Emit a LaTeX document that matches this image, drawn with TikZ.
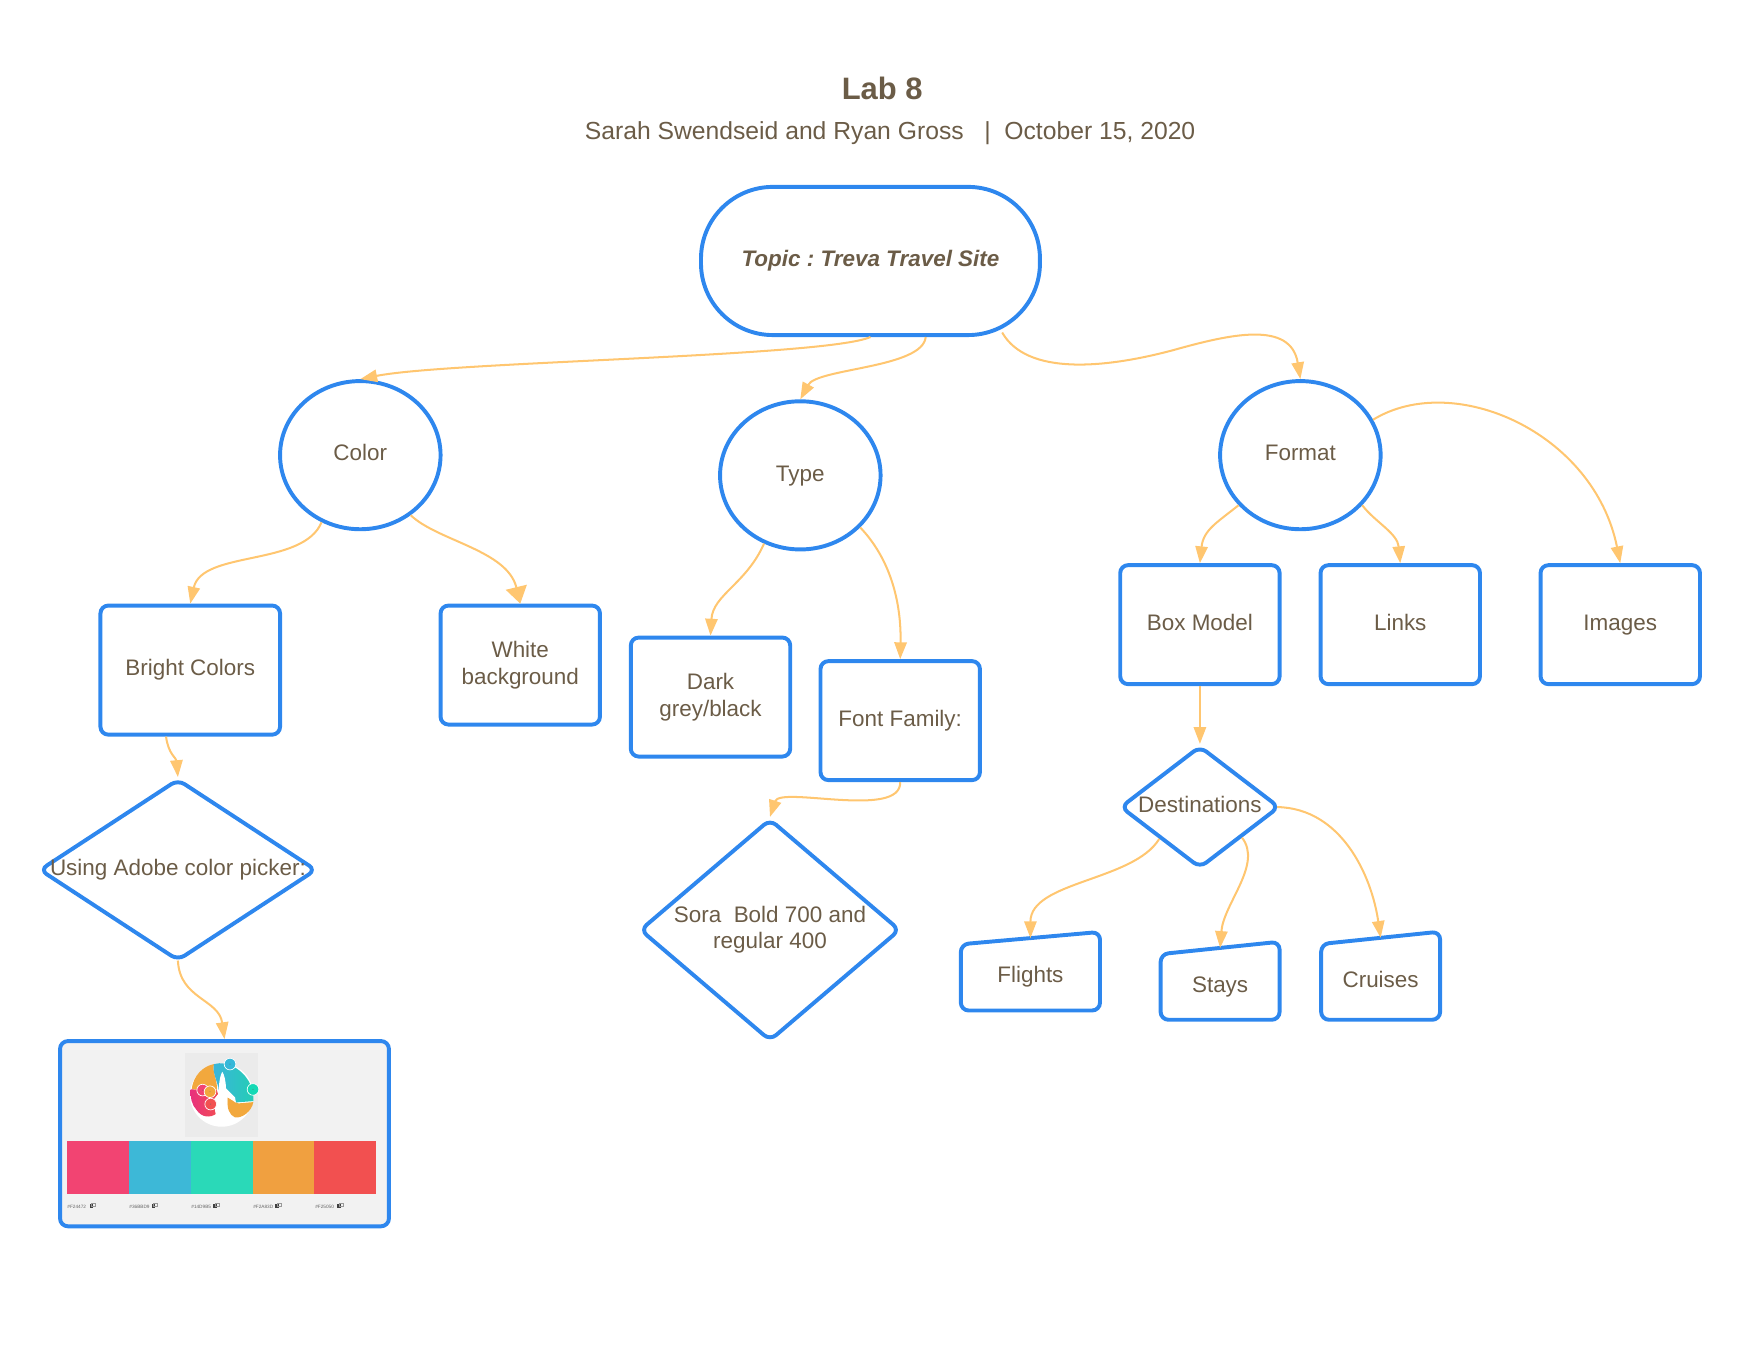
\documentclass[tikz,border=0pt]{standalone}
\usepackage{fontspec}
\setmainfont{Liberation Sans}
\usetikzlibrary{arrows.meta,shapes.geometric}

\definecolor{labBlue}{HTML}{2E87EE}
\definecolor{labEdge}{HTML}{FFC670}
\definecolor{labText}{HTML}{6B5C47}
\definecolor{logoOrange}{HTML}{F2A83D}
\definecolor{logoPink}{HTML}{E8307E}
\definecolor{logoRed}{HTML}{F25050}
\definecolor{logoBlue}{HTML}{3BB4DC}
\definecolor{logoTeal}{HTML}{25CDB5}

\tikzset{
    CustomText/.style={text=labText, align=center,
        font=\fontsize{10}{12}\selectfont,
        execute at begin node={\rule[-2.3pt]{0pt}{9.7pt}},
        execute at end node={\rule[-2.3pt]{0pt}{9.7pt}}},
    CustomLine/.style={draw=labBlue, line width=1.75pt},
    CustomBox/.style={CustomText, CustomLine, shape=rectangle, rounded corners=3.5pt,
        inner sep=0pt, minimum width=71pt, minimum height=53pt},
    CustomCircle/.style={CustomText, CustomLine, shape=ellipse, inner sep=0pt,
        minimum width=71.5pt, minimum height=66pt},
    CustomDiamond/.style={CustomLine, shape=diamond, inner sep=0pt, rounded corners=3.5pt},
    CustomInput/.style={text=labText, font=\fontsize{10}{12}\selectfont, shape=rectangle,
        inner sep=0pt, outer sep=0pt, text height=7.2pt, text depth=0pt},
    CustomEdge/.style={draw=labEdge, line width=0.9pt, ->},
    >={Triangle[length=7.5pt,width=5.5pt,labEdge]},
}

\begin{document}
\frenchspacing
\begin{tikzpicture}[x=0.5pt,y=-0.5pt]

\useasboundingbox (0,0) rectangle (1568,1211.6);

% Heading
\node (title) at (786,79) [text=labText, font=\fontsize{13.8}{16}\selectfont\bfseries] {Lab 8};
\node (subtitle) at (793,118.5) [text=labText, font=\fontsize{11}{14}\selectfont]
    {Sarah Swendseid and Ryan Gross~~~|~~October 15, 2020};

% Top of the tree
\node (topic) at (775.5,232.5) [CustomBox, rounded corners=32pt, minimum width=151pt, minimum height=66pt,
    font=\fontsize{10}{12}\selectfont\bfseries\itshape] {Topic : Treva Travel Site};

\node (color) at (321,405.5) [CustomCircle] {Color};
\node (type) at (713,423.5) [CustomCircle] {Type};
\node (format) at (1158.5,405.5) [CustomCircle] {Format};

% Color branch
\node (bright) at (169.5,597) [CustomBox, minimum width=80pt, minimum height=57.5pt] {Bright Colors};
\node (white) at (463.5,592.5) [CustomBox] {White\\background};
\node (adobe) at (158.5,775) [CustomDiamond, minimum width=123.5pt, minimum height=81pt,
    label={[CustomText]center:{Using Adobe color picker:}}] {};
\node (palette) at (200,1010) [CustomLine, shape=rectangle, fill=black!5, rounded corners=3.5pt,
    inner sep=0pt, minimum width=146.5pt, minimum height=82.5pt] {};

% Type branch
\node (dark) at (633,621) [CustomBox] {Dark\\grey/black};
\node (font) at (802,642) [CustomBox] {Font Family:};
\node (sora) at (686,828.5) [CustomDiamond, minimum width=116pt, minimum height=99pt,
    label={[CustomText]center:{Sora~ Bold 700 and\\regular 400}}] {};

% Format branch
\node (boxmodel) at (1069,556.5) [CustomBox] {Box Model};
\node (links) at (1247.5,556.5) [CustomBox] {Links};
\node (images) at (1443.5,556.5) [CustomBox] {Images};
\node (dest) at (1069,719) [CustomDiamond, minimum width=71pt, minimum height=54.5pt,
    label={[CustomText]center:{Destinations}}] {};

\node (flights) at (918,868) [CustomInput, minimum width=62pt, minimum height=32.25pt] {Flights};
\node (stays) at (1087,876.5) [CustomInput, text height=8pt, minimum width=53pt, minimum height=32pt] {Stays};
\node (cruises) at (1230,872) [CustomInput, text height=8.2pt, minimum width=53pt, minimum height=36.5pt] {Cruises};

\foreach \n in {flights,stays,cruises}
    \draw [CustomLine, rounded corners=3.5pt] (\n.south west) -- ([yshift=-2.75pt]\n.north west)
        -- ([yshift=2.75pt]\n.north east) -- (\n.south east) -- cycle;

% Palette screenshot
\foreach \col/\hex [count=\i from 0] in {F24472/F24472,3DB8D7/36BBD9,2AD9B8/14D9B5,F0A040/F2A83D,F25050/F25050} {
    \definecolor{swatch}{HTML}{\col}
    \fill [swatch] (59.7+55.1*\i,1016.2) rectangle ++(55.1,47.6);
    \node [anchor=west, inner sep=0pt, text=black!60, font=\fontsize{2.1}{3}\selectfont] at (59.7+55.2*\i,1075) {\#\hex};
    \fill [black!75] (79.8+55.2*\i,1072.8) rectangle ++(3.2,3.8);
    \draw [black!40, line width=0.1pt] (81.5+55.2*\i,1071.5) rectangle ++(3.2,3);
}

% Logo over the palette, units of a 3x crop
\begin{scope}[shift={(151.46,926.6)}, x=0.1485pt, y=-0.1485pt]
    \fill [black!8] (45,40) rectangle (265,290);
    \fill [white] (155,165) circle [radius=14.1pt];
    \fill [logoOrange] (65,148) .. controls (70,105) and (100,78) .. (132,72)
        .. controls (125,95) and (145,125) .. (140,150) -- cycle;
    \shade [left color=logoPink, right color=logoRed] (62,148) -- (140,150) .. controls (150,175) and (150,200) .. (140,220)
        .. controls (120,235) and (95,232) .. (80,210) .. controls (65,195) and (60,170) .. (62,148) -- cycle;
    \fill [logoOrange] (172,172) -- (205,190) -- (250,186) .. controls (245,215) and (215,235) .. (195,232)
        .. controls (178,225) and (170,205) .. (172,172) -- cycle;
    \shade [left color=logoBlue, right color=logoTeal] (132,72) .. controls (170,60) and (235,90) .. (250,160) -- (250,183)
        -- (198,187) -- (168,150) -- (146,150) .. controls (145,130) and (125,95) .. (132,72) -- cycle;
    \fill [white] (157,95) .. controls (148,110) and (146,140) .. (146,160) -- (130,180) -- (140,240) -- (172,240)
        -- (172,170) -- (198,188) -- (195,172) -- (168,145) .. controls (167,120) and (163,105) .. (157,95) -- cycle;
    \foreach \hx/\hy/\col in {180/72/36B8D9, 249/148/14D9B5, 98/150/F24472, 120/155/F2A83D, 122/192/F25050} {
        \definecolor{handle}{HTML}{\col}
        \draw [white, fill=handle, line width=0.3pt] (\hx,\hy) circle [radius=2.6pt];
        \fill [black!60] (\hx,\hy) circle [radius=0.2pt];
    }
\end{scope}

% Connectors
\begin{scope}
    \draw [CustomEdge] (topic.south) .. controls (735,318) and (400,322) .. (color.north);
    \draw [CustomEdge] (topic.-54.5) .. controls (822,328) and (728,328) .. (type.north);
    \draw [CustomEdge] ([yshift=2pt]topic.-30.3) .. controls (915,335) and (985,328) .. (1045,312)
        .. controls (1095,298) and (1150,285) .. (format.north);

    \draw [CustomEdge] (color.-120) .. controls (270,505) and (180,490) .. (bright.north);
    \draw [CustomEdge, -{Triangle[length=7.5pt,width=9.5pt,labEdge]}] (color.-50) .. controls (390,482) and (452,490) .. (white.north);
    \draw [CustomEdge] (bright.-110.3) .. controls (150,672) and (157,675) .. (adobe.north);
    \draw [CustomEdge] ([yshift=1pt]adobe.south) .. controls (160,890) and (195,890) .. (palette.north);

    \draw [CustomEdge] (type.-118) .. controls (665,520) and (635,530) .. (dark.north);
    \draw [CustomEdge] (type.-41.6) .. controls (795,500) and (803,540) .. (font.north);
    \draw [CustomEdge] (font.south) .. controls (803,730) and (695,700) .. (sora.north);

    \draw [CustomEdge] (format.-141) .. controls (1085,465) and (1072,472) .. (boxmodel.north);
    \draw [CustomEdge] (format.-39) .. controls (1225,465) and (1245,475) .. (links.north);
    \draw [CustomEdge] (format.26.6) .. controls (1295,330) and (1420,385) .. (images.north);
    \draw [CustomEdge] (boxmodel.south) -- (dest.north);

    \draw [CustomEdge] (dest.218) .. controls (1010,785) and (918,785) .. (flights.north);
    \draw [CustomEdge] (dest.-36.4) .. controls (1125,770) and (1090,805) .. (stays.north);
    \draw [CustomEdge] ([xshift=-2pt]dest.east) .. controls (1195,720) and (1222,780) .. (cruises.north);
\end{scope}

\end{tikzpicture}
\end{document}
